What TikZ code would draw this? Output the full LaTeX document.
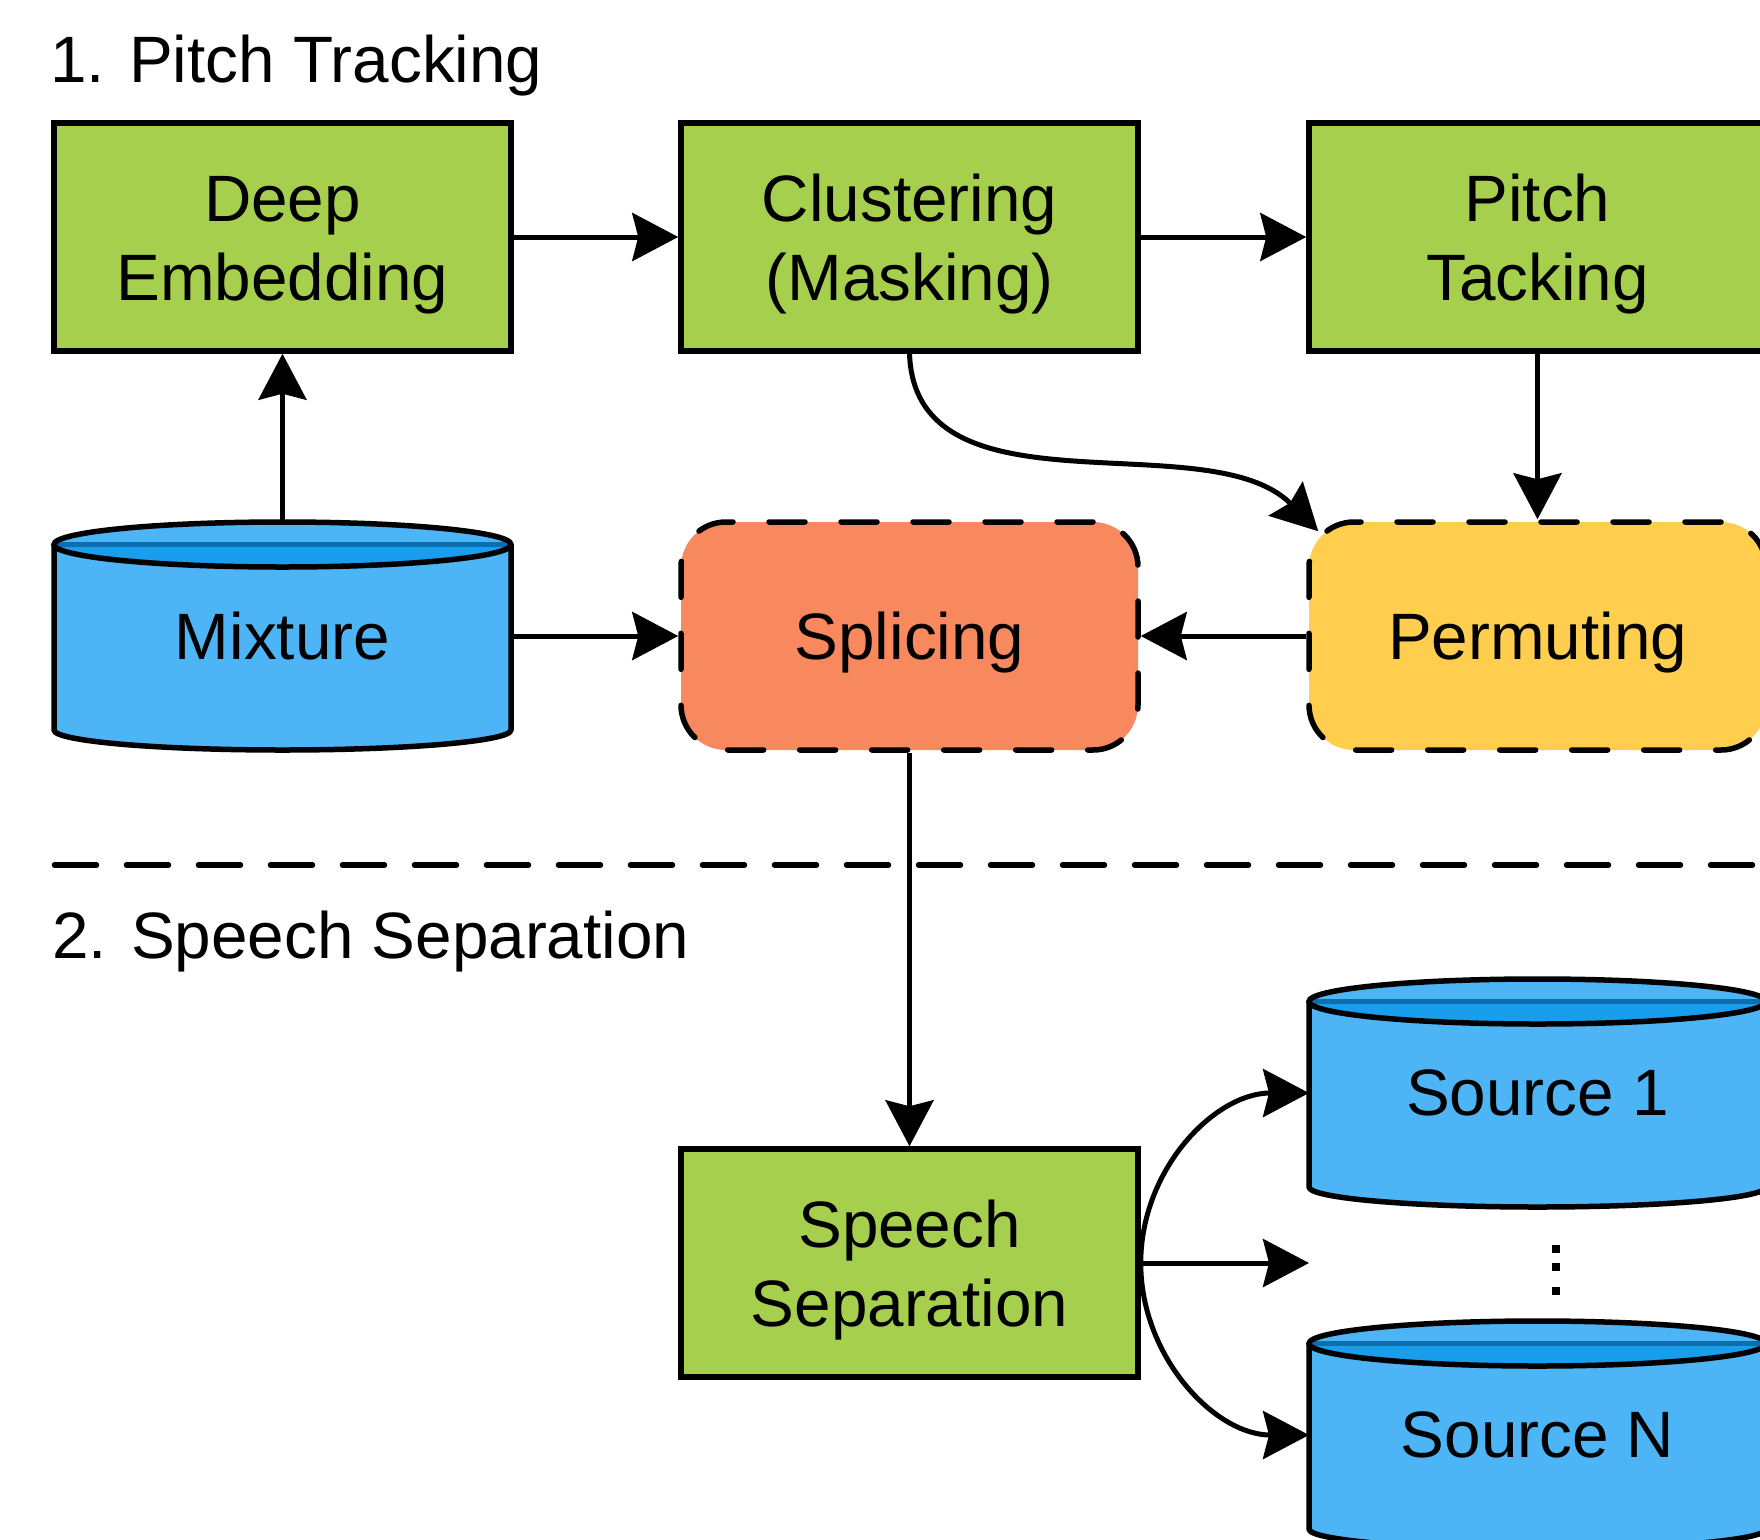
\documentclass[tikz,border=0pt]{standalone}
\usepackage{fontspec}
\setmainfont{Liberation Sans}
\usetikzlibrary{arrows.meta,calc}

\definecolor{procgreen}{RGB}{166,207,77}
\definecolor{splicecol}{RGB}{248,136,94}
\definecolor{permcol}{RGB}{255,206,78}
\definecolor{tankbody}{RGB}{77,181,245}
\definecolor{tanktop}{RGB}{25,158,238}
\definecolor{tankline}{RGB}{11,111,175}

\tikzset{
  blockbase/.style={minimum width=457pt, minimum height=228pt, inner sep=0pt,
    align=center, line width=5.5pt},
  % a tall invisible rule beside the text sets it a little lower
  boxtext/.style={execute at begin node={\vrule width 0pt height #1 depth 0pt}},
  procbox/.style={blockbase, boxtext=140pt, draw, fill=procgreen},
  dashbox/.style={blockbase, boxtext=61pt, draw, rounded corners=45pt, line cap=round,
    dash pattern=on 36pt off 36pt},
  tank/.style={blockbase, outer sep=0pt},
  flow/.style={line width=5pt, -{Stealth[length=46pt, width=48pt, inset=6pt]}},
  heading/.style={anchor=base west, inner sep=0pt},
  sepline/.style={line width=5.5pt, line cap=round, dash pattern=on 42pt off 30pt},
}

% cylinder drawn over the frame of a tank node
\newcommand\drawtank[1]{%
  \begin{scope}[shift={(#1.north west)}]
    \fill[tankbody] (0,22.5) -- (0,208)
      arc[start angle=180, end angle=360, x radius=228.5pt, y radius=20pt]
      -- (457,22.5) -- cycle;
    \fill[tankbody] (228.5,22.5) ellipse [x radius=228.5pt, y radius=22.5pt];
    \fill[tanktop] (0,22.5)
      arc[start angle=180, end angle=360, x radius=228.5pt, y radius=22.5pt] -- cycle;
    \draw[tankline, line width=5pt] (0,22.5) -- (457,22.5);
    \draw[line width=5.5pt] (228.5,22.5) ellipse [x radius=228.5pt, y radius=22.5pt];
    \draw[line width=5.5pt, line join=round] (0,22.5) -- (0,208)
      arc[start angle=180, end angle=360, x radius=228.5pt, y radius=20pt]
      -- (457,22.5);
  \end{scope}}

\begin{document}
\begin{tikzpicture}[x=1pt, y=-1pt,
  every node/.append style={font=\fontsize{65.6pt}{78.7pt}\selectfont}]
  \useasboundingbox (0,0) rectangle (1760,1539);
  \clip (0,0) rectangle (1760,1539);

  % section headings
  \node[heading] (head1) at (50,82) {1. Pitch Tracking};
  \node[heading] (head2) at (52,958) {2. Speech Separation};

  % stage 1
  \node[procbox] (embed) at (282.5,237) {Deep\\Embedding};
  \node[procbox] (clus) at (909.5,237) {Clustering\\(Masking)};
  \node[procbox] (pitch) at (1537.5,237) {Pitch\\Tacking};

  \node[tank] (mix) at (282.5,636) {};
  \drawtank{mix}
  \node at (mix) {Mixture};

  \node[dashbox, fill=splicecol] (splice) at (909.5,636) {Splicing};
  \node[dashbox, fill=permcol] (perm) at (1537.5,636) {Permuting};

  % separator between the two stages
  \coordinate (sepL) at (54.5,865);
  \coordinate (sepR) at (1790,865);
  \draw[sepline] (sepL) -- (sepR);

  % stage 2
  \node[procbox] (sep) at (909.5,1263) {Speech\\Separation};

  \node[tank] (src1) at (1537.5,1093) {};
  \drawtank{src1}
  \node at (src1) {Source 1};

  \node[tank] (srcN) at (1537.5,1435) {};
  \drawtank{srcN}
  \node at (srcN) {Source N};

  \coordinate (more) at (1309,1263);
  \node[inner sep=0pt, minimum width=8pt, minimum height=50pt] (dots) at (1556,1270) {};
  \fill (1552,1245) rectangle +(8,8);
  \fill (1552,1263) rectangle +(8,8);
  \fill (1552,1287) rectangle +(8,8);

  % connectors
  \draw[flow] (embed.east) -- (clus.west);
  \draw[flow] (clus.east) -- (pitch.west);
  \draw[flow] (mix.north) -- (embed.south);
  \draw[flow] (mix.east) -- (splice.west);
  \draw[flow] (perm.west) -- (splice.east);
  \draw[flow] (pitch.south) -- (perm.north);
  \draw[flow] (clus.south) .. controls +(6,168) and +(-110,-110)
    .. ($(perm.north west)+(12,12)$);
  \draw[flow] (splice.south) -- (sep.north);
  \draw[flow] (sep.east) .. controls +(0,-94) and +(-94,0) .. (src1.west);
  \draw[flow] (sep.east) -- (more);
  \draw[flow] (sep.east) .. controls +(0,94) and +(-94,0) .. (srcN.west);
\end{tikzpicture}
\end{document}
